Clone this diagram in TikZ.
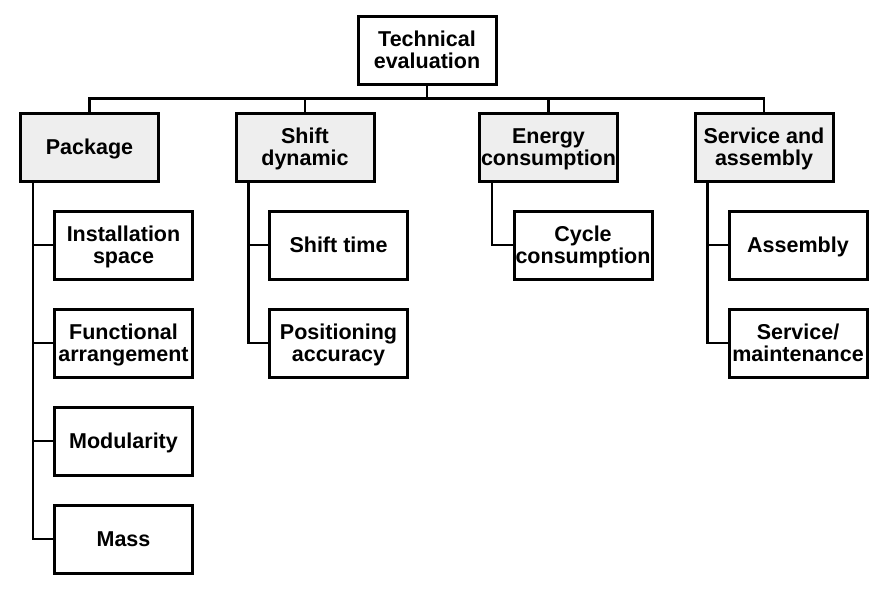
\documentclass[tikz,border=0pt]{standalone}
\usepackage{fontspec}
\setmainfont{Liberation Sans}
\definecolor{boxgray}{RGB}{238,238,238}
\newcommand{\lbl}[1]{\raisebox{-7.9pt}[0pt][0pt]{\begin{tabular}{@{}c@{}}#1\end{tabular}}}
\begin{document}
\begin{tikzpicture}[x=1pt,y=-1pt,
  box/.style={draw=black, line width=3pt, minimum width=138pt, minimum height=68pt, inner sep=0pt, align=center,
    font=\fontsize{21.5}{22}\selectfont\bfseries},
  topbox/.style={box, fill=boxgray},
  conn/.style={line width=2.4pt, line cap=rect}]
\useasboundingbox (0,0) rectangle (888,589);
\node[box] (root) at (427,50) {\lbl{Technical\\evaluation}};
\node[topbox] (pkg) at (89.5,147.5) {\lbl{Package}};
\node[topbox] (shift) at (305,147.5) {\lbl{Shift\\dynamic}};
\node[topbox] (energy) at (548.5,147.5) {\lbl{Energy\\consumption}};
\node[topbox] (serv) at (764,147.5) {\lbl{Service and\\assembly}};
\node[box] (inst) at (123.5,245) {\lbl{Installation\\space}};
\node[box] (func) at (123.5,343) {\lbl{Functional\\arrangement}};
\node[box] (mod) at (123.5,441) {\lbl{Modularity}};
\node[box] (mass) at (123.5,539) {\lbl{Mass}};
\node[box] (stime) at (338.5,245) {\lbl{Shift time}};
\node[box] (pos) at (338.5,343) {\lbl{Positioning\\accuracy}};
\node[box] (cycle) at (583,245) {\lbl{Cycle\\consumption}};
\node[box] (asm) at (798,245) {\lbl{Assembly}};
\node[box] (smaint) at (798,343) {\lbl{Service/\\maintenance}};
\coordinate (busL) at (89.5,98.5);
\coordinate (busR) at (764,98.5);
\draw[conn] (root.south) -- (root.south |- busL);
\draw[conn] (busL) -- (busR);
\draw[conn] (pkg.north) -- (pkg.north |- busL);
\draw[conn] (shift.north) -- (shift.north |- busL);
\draw[conn] (energy.north) -- (energy.north |- busL);
\draw[conn] (serv.north) -- (serv.north |- busL);
\foreach \p/\c in {pkg/inst,pkg/func,pkg/mod,pkg/mass,shift/stime,shift/pos,energy/cycle,serv/asm,serv/smaint}
  \draw[conn] ([xshift=14pt]\p.south west) |- (\c.west);
\end{tikzpicture}
\end{document}
